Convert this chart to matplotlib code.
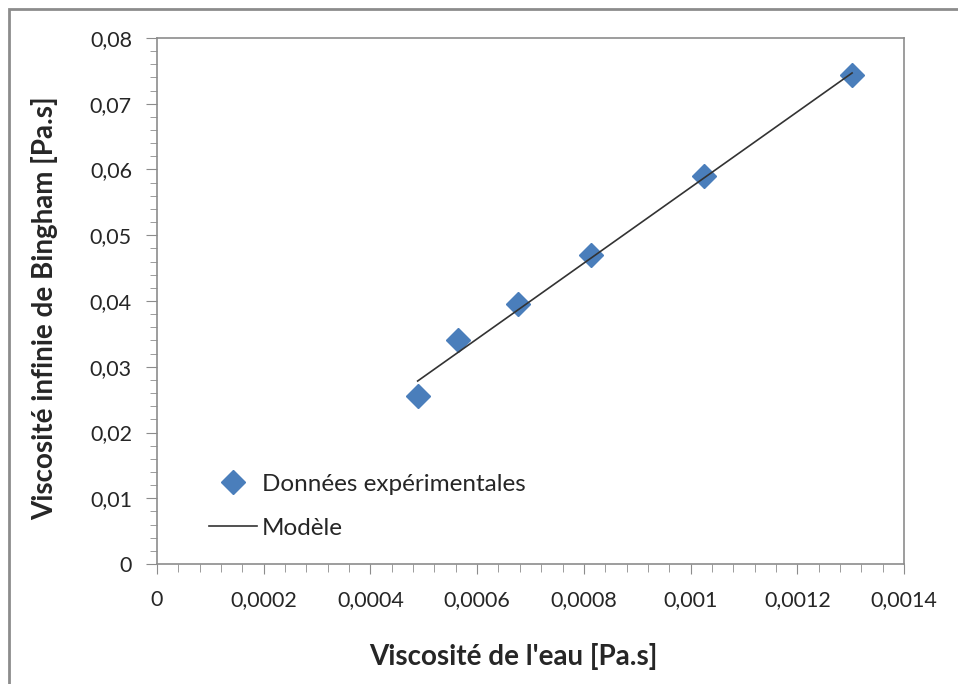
import matplotlib
matplotlib.use('Agg')
import matplotlib.pyplot as plt
from matplotlib.ticker import MultipleLocator, FuncFormatter
from matplotlib.patches import Rectangle

### Data
visc_eau = [0.0004885, 0.000565, 0.0006757, 0.000814, 0.001026, 0.0013027]
visc_bingham = [0.02555, 0.03407, 0.03954, 0.0470, 0.0590, 0.07437]
modele = [0.02783, 0.03223, 0.0386, 0.04656, 0.05876, 0.07468]

plt.rcParams['font.family'] = ['Lato', 'DejaVu Sans']


def fr_fmt(v, pos):
    s = ('%.4f' % v).rstrip('0').rstrip('.')
    if s == '-0':
        s = '0'
    return s.replace('.', ',')


### Charting
fig = plt.figure(figsize=(9.58, 6.84), dpi=100)
ax = fig.add_axes([157 / 958, 1 - 564 / 684, (904 - 157) / 958, (564 - 38) / 684])

ax.plot(visc_eau, visc_bingham, 'D', color='#4a7ebb', markersize=12.5, label='Données expérimentales', zorder=3)
ax.plot(visc_eau, modele, '-', color='#333333', lw=1.2, label='Modèle', zorder=4)

ax.set_xlim(0, 0.0014)
ax.set_ylim(0, 0.08)
ax.xaxis.set_major_locator(MultipleLocator(0.0002))
ax.xaxis.set_minor_locator(MultipleLocator(0.00004))
ax.yaxis.set_major_locator(MultipleLocator(0.01))
ax.yaxis.set_minor_locator(MultipleLocator(0.002))
ax.xaxis.set_major_formatter(FuncFormatter(fr_fmt))
ax.yaxis.set_major_formatter(FuncFormatter(fr_fmt))

for s in ax.spines.values():
    s.set_color('#8c8c8c')
    s.set_linewidth(1.2)
ax.tick_params(which='both', direction='out', colors='#8c8c8c', labelcolor='#262626', labelsize=15.5)
ax.tick_params(axis='x', which='major', length=7, pad=12)
ax.tick_params(axis='x', which='minor', length=6)
ax.tick_params(axis='y', which='major', length=8, pad=10)
ax.tick_params(axis='y', which='minor', length=5)

fig.text(513 / 958, 1 - 657 / 684, "Viscosité de l'eau [Pa.s]", ha='center', va='center',
         fontsize=20, fontweight='bold', color='#262626')
fig.text(45 / 958, 1 - 308 / 684, 'Viscosité infinie de Bingham [Pa.s]', ha='center', va='center',
         rotation=90, fontsize=20, fontweight='bold', color='#262626')

ax.legend(loc='lower left', bbox_to_anchor=(0.04, 0.006), frameon=False, fontsize=17.5,
          handlelength=2.0, handletextpad=0.2, labelspacing=0.95, labelcolor='#262626')

# outer chart frame
fig.patches.append(Rectangle((9 / 958, -0.1), 2, 1 - 9 / 684 + 0.1, transform=fig.transFigure,
                             fill=False, edgecolor='#8c8c8c', lw=2))

fig.savefig('out.png', dpi=100)
